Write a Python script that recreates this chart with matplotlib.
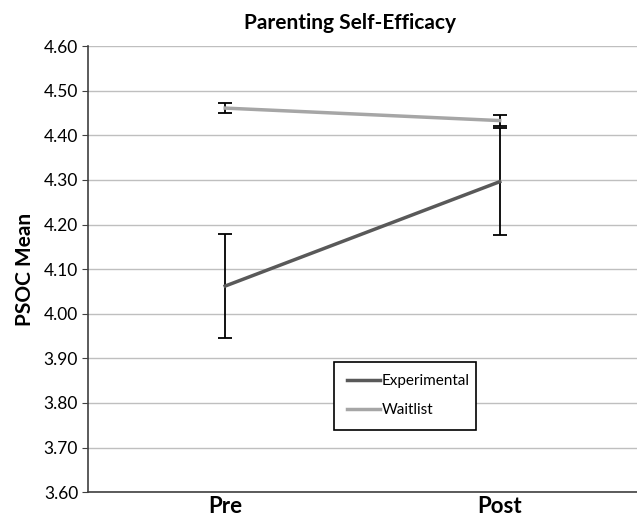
import matplotlib
matplotlib.use('Agg')
import matplotlib.pyplot as plt

plt.rcParams['font.family'] = ['Lato', 'DejaVu Sans']

phases = ['Pre', 'Post']
experimental = [4.062, 4.296]
experimental_err = [0.117, 0.120]
waitlist = [4.461, 4.433]
waitlist_err = [0.012, 0.013]

fig = plt.figure(figsize=(6.37, 5.18), dpi=100)
ax = fig.add_axes([0.138, 0.050, 0.862, 0.861])

x = list(range(len(phases)))
ax.errorbar(x, experimental, yerr=experimental_err, color='#595959', lw=2.5,
            ecolor='black', elinewidth=1.3, capsize=5, capthick=1.3,
            label='Experimental', zorder=3)
ax.errorbar(x, waitlist, yerr=waitlist_err, color='#a6a6a6', lw=2.5,
            ecolor='black', elinewidth=1.3, capsize=5, capthick=1.3,
            label='Waitlist', zorder=3)

ax.set_xlim(-0.5, 1.5)
ax.set_ylim(3.60, 4.60)
ax.set_yticks([3.6 + 0.1 * i for i in range(11)])
ax.yaxis.set_major_formatter(matplotlib.ticker.FormatStrFormatter('%.2f'))
ax.set_xticks(x)
ax.set_xticklabels(phases, fontsize=16, fontweight='bold')
ax.tick_params(axis='x', length=0, pad=3)
ax.tick_params(axis='y', labelsize=12.5, length=4, direction='out', color='#404040', pad=3)
ax.grid(axis='y', color='#bfbfbf', lw=1)
ax.set_axisbelow(True)
for s in ['top', 'right']:
    ax.spines[s].set_visible(False)
ax.spines['left'].set_color('#404040')
ax.spines['bottom'].set_color('#404040')
ax.spines['left'].set_linewidth(1.2)
ax.spines['bottom'].set_linewidth(1.2)

ax.set_ylabel('PSOC Mean', fontsize=15, fontweight='bold', labelpad=6)
fig.text(0.55, 0.956, 'Parenting Self-Efficacy', ha='center', va='center',
         fontsize=15, fontweight='bold')

handles = [plt.Line2D([], [], color='#595959', lw=2.5),
           plt.Line2D([], [], color='#a6a6a6', lw=2.5)]
leg = ax.legend(handles, ['Experimental', 'Waitlist'], loc='lower left',
                bbox_to_anchor=(0.435, 0.123, 0.286, 0.173), mode='expand',
                fancybox=False, framealpha=1, edgecolor='black', fontsize=11,
                handlelength=2.2, handletextpad=0.1, borderpad=0.8, labelspacing=1.0)
leg.get_frame().set_linewidth(1.2)

fig.savefig('out.png', dpi=100)
